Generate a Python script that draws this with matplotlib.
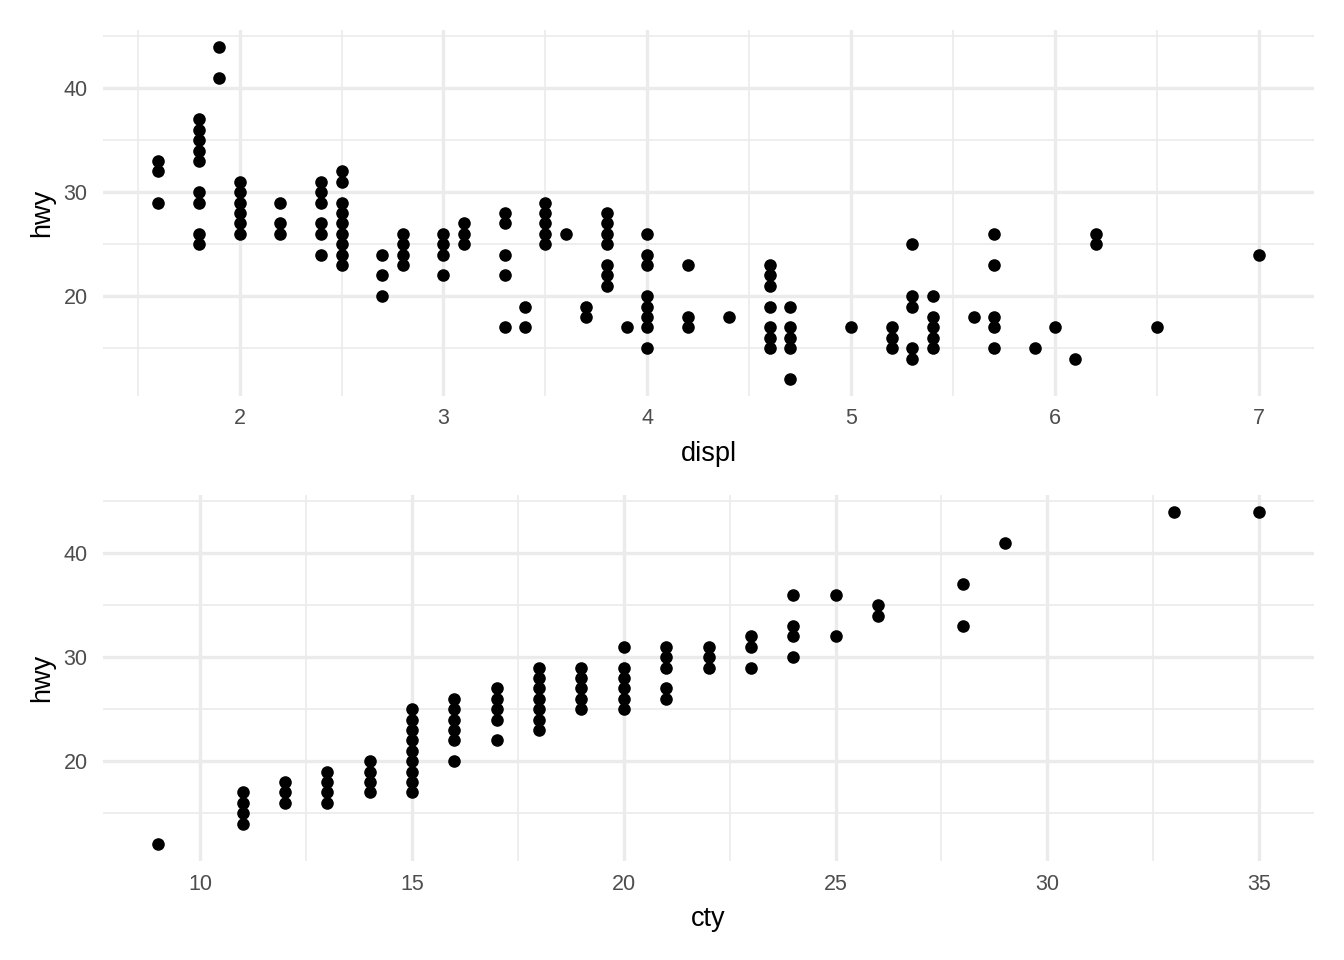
import matplotlib.pyplot as plt
from matplotlib.ticker import MultipleLocator

# hwy values seen at each engine displacement (top panel)
displ_groups = [1.6, 1.8, 1.9, 2.0, 2.2, 2.4, 2.5, 2.7, 2.8, 3.0, 3.1, 3.3, 3.4,
                3.5, 3.6, 3.7, 3.8, 3.9, 4.0, 4.2, 4.4, 4.6, 4.7, 5.0, 5.2, 5.3,
                5.4, 5.6, 5.7, 5.9, 6.0, 6.1, 6.2, 6.5, 7.0]
hwy_by_displ = [
    [33, 32, 29],
    [37, 36, 35, 34, 33, 30, 29, 26, 25],
    [44, 41],
    [31, 30, 29, 28, 27, 26],
    [29, 27, 26],
    [31, 30, 29, 27, 26, 24],
    [32, 31, 29, 28, 27, 26, 25, 24, 23],
    [24, 22, 20],
    [26, 25, 24, 23],
    [26, 25, 24, 22],
    [27, 26, 25],
    [28, 27, 24, 22, 17],
    [19, 17],
    [29, 28, 27, 26, 25],
    [26],
    [19, 18],
    [28, 27, 26, 25, 23, 22, 21],
    [17],
    [26, 24, 23, 20, 19, 18, 17, 15],
    [23, 18, 17],
    [18],
    [23, 22, 21, 19, 17, 16, 15],
    [19, 17, 16, 15, 12],
    [17],
    [17, 16, 15],
    [25, 20, 19, 15, 14],
    [20, 18, 17, 16, 15],
    [18],
    [26, 23, 18, 17, 15],
    [15],
    [17],
    [14],
    [26, 25],
    [17],
    [24],
]

# hwy values seen at each city mpg (bottom panel)
cty_groups = [9, 11, 12, 13, 14, 15, 16, 17, 18, 19, 20, 21, 22, 23, 24, 25,
              26, 28, 29, 33, 35]
hwy_by_cty = [
    [12],
    [17, 16, 15, 14],
    [18, 17, 16],
    [19, 18, 17, 16],
    [20, 19, 18, 17],
    [25, 24, 23, 22, 21, 20, 19, 18, 17],
    [26, 25, 24, 23, 22, 20],
    [27, 26, 25, 24, 22],
    [29, 28, 27, 26, 25, 24, 23],
    [29, 28, 27, 26, 25],
    [31, 29, 28, 27, 26, 25],
    [31, 30, 29, 27, 26],
    [31, 30, 29],
    [32, 31, 29],
    [36, 33, 32, 30],
    [36, 32],
    [35, 34],
    [37, 33],
    [41],
    [44],
    [44],
]


def flatten(xs, groups):
    px, py = [], []
    for x, ys in zip(xs, groups):
        for y in ys:
            px.append(x)
            py.append(y)
    return px, py


def style_axis(ax, xmajor, xlabel):
    ax.set_facecolor("white")
    for s in ax.spines.values():
        s.set_visible(False)
    ax.xaxis.set_major_locator(MultipleLocator(xmajor))
    ax.xaxis.set_minor_locator(MultipleLocator(xmajor / 2))
    ax.yaxis.set_major_locator(MultipleLocator(10))
    ax.yaxis.set_minor_locator(MultipleLocator(5))
    ax.grid(which="major", color="#EBEBEB", linewidth=2.4)
    ax.grid(which="minor", color="#EBEBEB", linewidth=1.2)
    ax.set_axisbelow(True)
    ax.tick_params(which="both", length=0, labelsize=15.5, labelcolor="#4D4D4D")
    ax.tick_params(axis="x", pad=9)
    ax.tick_params(axis="y", pad=11)
    ax.set_xlabel(xlabel, fontsize=19.5, labelpad=8.5)
    ax.set_ylabel("hwy", fontsize=19.5, labelpad=6)


plt.rcParams["font.family"] = ["Liberation Sans", "DejaVu Sans"]

fig = plt.figure(figsize=(13.44, 9.6), dpi=100)
ax1 = fig.add_axes([103 / 1344, 1 - 396 / 960, 1211 / 1344, 366 / 960])
ax2 = fig.add_axes([103 / 1344, 1 - 861 / 960, 1211 / 1344, 366 / 960])

x1, y1 = flatten(displ_groups, hwy_by_displ)
ax1.scatter(x1, y1, s=82, color="black", linewidths=0, zorder=3)
ax1.set_xlim(1.33, 7.27)
ax1.set_ylim(10.4, 45.6)
style_axis(ax1, 1, "displ")

x2, y2 = flatten(cty_groups, hwy_by_cty)
ax2.scatter(x2, y2, s=82, color="black", linewidths=0, zorder=3)
ax2.set_xlim(7.7, 36.3)
ax2.set_ylim(10.4, 45.6)
style_axis(ax2, 5, "cty")

fig.savefig("out.png", dpi=100, facecolor="white")
